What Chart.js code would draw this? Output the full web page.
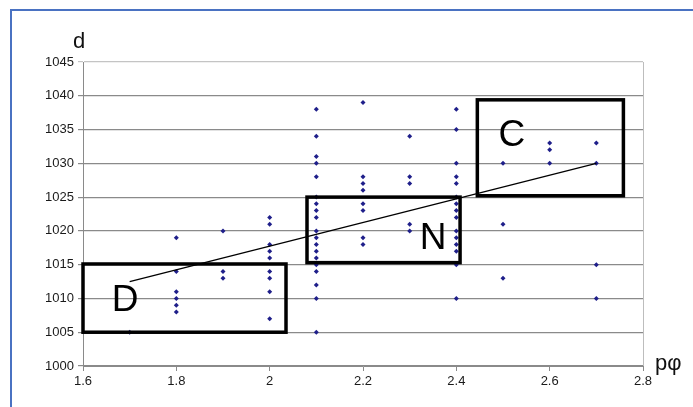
<!DOCTYPE html>
<html>
<head>
<meta charset="utf-8">
<script src="https://cdn.jsdelivr.net/npm/chart.js@4/dist/chart.umd.min.js"></script>
<style>
    html, body { margin: 0; padding: 0; background: #fff; overflow: hidden; }
    #wrap { position: relative; width: 693px; height: 407px; }
    #frame {
        position: absolute; left: 10px; top: 9px; width: 720px; height: 440px;
        border-left: 2px solid #4a72c2; border-top: 2px solid #4a72c2;
    }
    canvas { position: absolute; left: 0; top: 0; }
</style>
</head>
<body>
<div id="wrap">
    <div id="frame"></div>
    <canvas id="chart" width="693" height="407"></canvas>
</div>
<script>
// pφ values (one column of measurements each)
const phValues = [1.7, 1.8, 1.9, 2.0, 2.1, 2.2, 2.3, 2.4, 2.5, 2.6, 2.7];
// d values measured at each pφ
const dValues = [
    [1005],
    [1019, 1014, 1011, 1010, 1009, 1008],
    [1020, 1014, 1013],
    [1022, 1021, 1018, 1017, 1016, 1014, 1013, 1011, 1007],
    [1038, 1034, 1031, 1030, 1028, 1025, 1024, 1023, 1022, 1020, 1019, 1018, 1017, 1016, 1015, 1014, 1012, 1010, 1005],
    [1039, 1028, 1027, 1026, 1024, 1023, 1019, 1018],
    [1034, 1028, 1027, 1021, 1020],
    [1038, 1035, 1030, 1028, 1027, 1025, 1024, 1023, 1022, 1020, 1019, 1018, 1017, 1015, 1010],
    [1030, 1021, 1013],
    [1033, 1032, 1030],
    [1033, 1030, 1015, 1010],
];
// linear trend line end points
const trendX = [1.7, 2.7];
const trendY = [1012.5, 1030];

// group boxes: label, x range, y range, label position
const boxLabels = ['D', 'N', 'C'];
const boxX = [[1.6, 2.035], [2.08, 2.408], [2.445, 2.758]];
const boxY = [[1005, 1015.1], [1015.3, 1025], [1025.2, 1039.4]];
const labelX = [1.69, 2.35, 2.519];
const labelY = [1009.8, 1019, 1034.2];

const xTicks = [1.6, 1.8, 2.0, 2.2, 2.4, 2.6, 2.8];
const yTicks = [1000, 1005, 1010, 1015, 1020, 1025, 1030, 1035, 1040, 1045];

const points = [];
phValues.forEach((x, i) => dValues[i].forEach(y => points.push({ x, y })));

const FONT = '"Liberation Sans", Arial, sans-serif';

const groupBoxes = {
    id: 'groupBoxes',
    afterDatasetsDraw(chart) {
        const { ctx, chartArea, scales: { x, y } } = chart;
        ctx.save();
        // plot area right border
        ctx.strokeStyle = '#bdbdbd';
        ctx.lineWidth = 1;
        ctx.beginPath();
        ctx.moveTo(Math.round(chartArea.right) + 0.5, chartArea.top);
        ctx.lineTo(Math.round(chartArea.right) + 0.5, chartArea.bottom);
        ctx.stroke();

        ctx.strokeStyle = '#000';
        ctx.lineWidth = 3.5;
        boxLabels.forEach((label, i) => {
            const x0 = x.getPixelForValue(boxX[i][0]);
            const x1 = x.getPixelForValue(boxX[i][1]);
            const y0 = y.getPixelForValue(boxY[i][1]);
            const y1 = y.getPixelForValue(boxY[i][0]);
            ctx.strokeRect(x0, y0, x1 - x0, y1 - y0);
        });

        ctx.fillStyle = '#000';
        ctx.font = `37px ${FONT}`;
        ctx.textAlign = 'center';
        ctx.textBaseline = 'middle';
        boxLabels.forEach((label, i) => {
            ctx.fillText(label, x.getPixelForValue(labelX[i]), y.getPixelForValue(labelY[i]) + 1);
        });

        // axis titles
        ctx.font = `22px ${FONT}`;
        ctx.textAlign = 'left';
        ctx.textBaseline = 'alphabetic';
        ctx.fillStyle = '#111';
        ctx.fillText('d', 73, 48);
        ctx.fillText('pφ', chartArea.right + 12, chartArea.bottom + 4);
        ctx.restore();
    },
};

new Chart(document.getElementById('chart').getContext('2d'), {
    type: 'scatter',
    data: {
        datasets: [
            {
                label: 'd',
                data: points,
                pointStyle: 'rectRot',
                pointRadius: 2.5,
                backgroundColor: '#1f1f8a',
                borderColor: '#1f1f8a',
                borderWidth: 0,
                order: 2,
            },
            {
                type: 'line',
                label: 'trend',
                data: trendX.map((x, i) => ({ x, y: trendY[i] })),
                borderColor: '#000',
                borderWidth: 1.3,
                pointRadius: 0,
                fill: false,
                order: 1,
            },
        ],
    },
    options: {
        responsive: false,
        animation: false,
        events: [],
        layout: { padding: { left: 0, top: 62, right: 50, bottom: 0 } },
        plugins: { legend: { display: false }, tooltip: { enabled: false } },
        scales: {
            x: {
                type: 'linear',
                min: 1.6,
                max: 2.8,
                afterBuildTicks: scale => { scale.ticks = xTicks.map(value => ({ value })); },
                afterFit: scale => { scale.height = 41; },
                ticks: {
                    color: '#1a1a1a',
                    font: { family: FONT, size: 13 },
                    padding: 3,
                    maxRotation: 0,
                    callback: v => String(Number(v.toFixed(1))),
                },
                grid: { drawOnChartArea: false, color: '#8a8a8a', tickLength: 5 },
                border: { color: '#8a8a8a', width: 1 },
            },
            y: {
                min: 1000,
                max: 1045,
                afterBuildTicks: scale => { scale.ticks = yTicks.map(value => ({ value })); },
                afterFit: scale => { scale.width = 83; },
                ticks: {
                    color: '#1a1a1a',
                    font: { family: FONT, size: 13 },
                    padding: 4,
                    callback: v => String(v),
                },
                grid: {
                    color: ctx => (ctx.tick && ctx.tick.value === 1045 ? '#c4c4c4' : '#8a8a8a'),
                    lineWidth: 1.2,
                    tickLength: 5,
                },
                border: { color: '#8a8a8a', width: 1 },
            },
        },
    },
    plugins: [groupBoxes],
});
</script>
</body>
</html>
